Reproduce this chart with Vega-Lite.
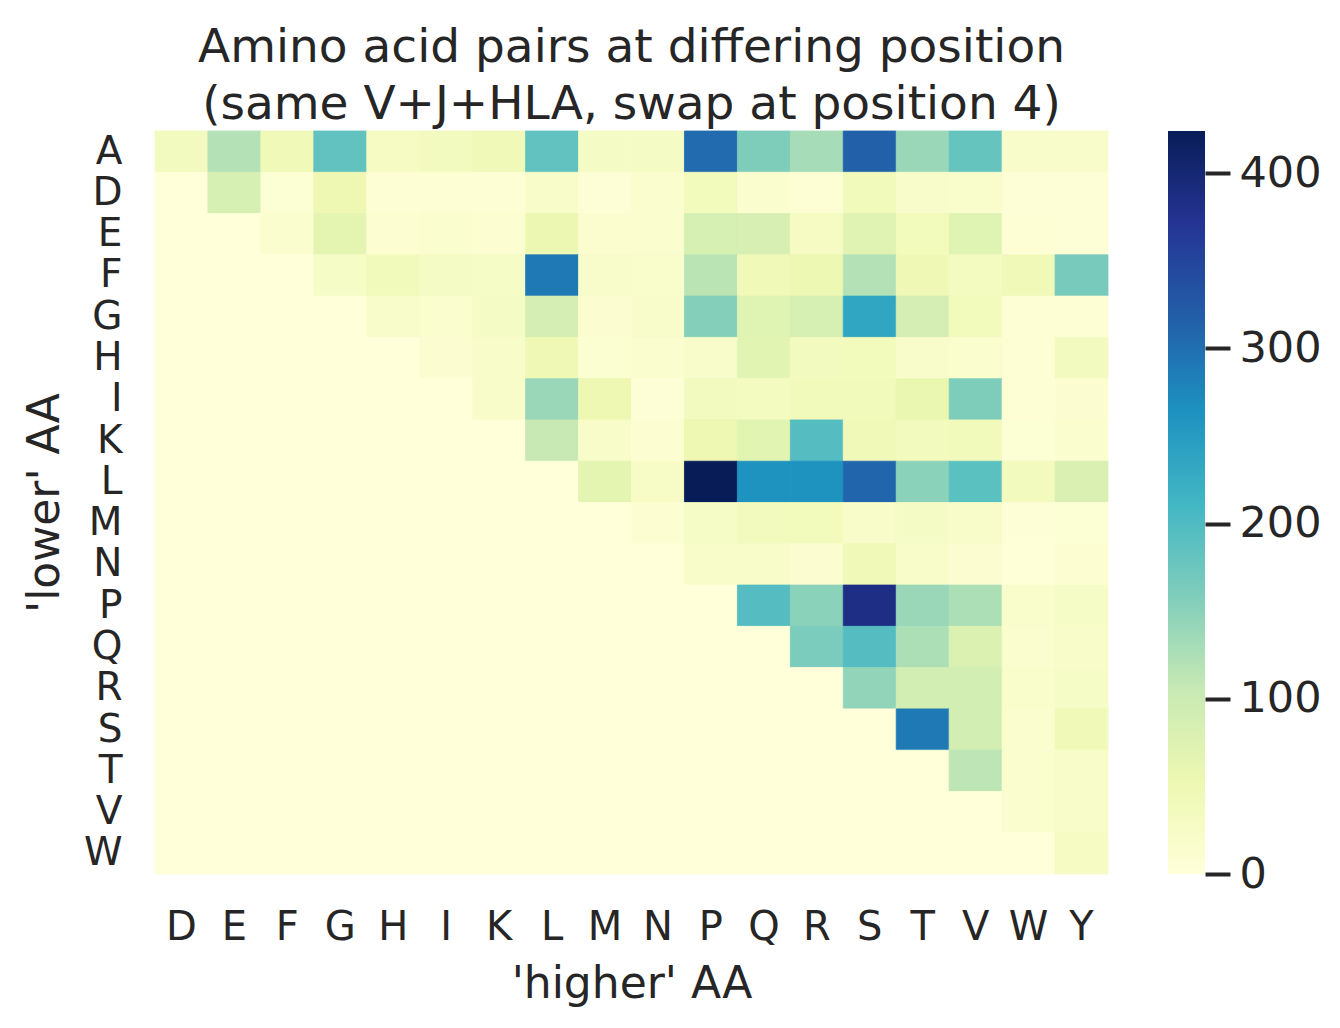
{
  "$schema": "https://vega.github.io/schema/vega-lite/v6.json",
  "padding": {"left": 23, "top": 23, "right": 10, "bottom": 10},
  "background": "white",
  "config": {
    "font": "DejaVu Sans",
    "view": {"stroke": null},
    "axis": {
      "labelColor": "#262626",
      "titleColor": "#262626",
      "titleFontWeight": "normal",
      "grid": false,
      "domain": false
    },
    "title": {"color": "#262626", "fontWeight": "normal"}
  },
  "datasets": {
    "pairs": [
      {"lo":"A","hi":"D","n":35},{"lo":"A","hi":"E","n":120},{"lo":"A","hi":"F","n":45},{"lo":"A","hi":"G","n":185},{"lo":"A","hi":"H","n":30},{"lo":"A","hi":"I","n":35},{"lo":"A","hi":"K","n":45},{"lo":"A","hi":"L","n":185},{"lo":"A","hi":"M","n":28},{"lo":"A","hi":"N","n":28},{"lo":"A","hi":"P","n":305},{"lo":"A","hi":"Q","n":160},{"lo":"A","hi":"R","n":130},{"lo":"A","hi":"S","n":315},{"lo":"A","hi":"T","n":140},{"lo":"A","hi":"V","n":180},{"lo":"A","hi":"W","n":20},{"lo":"A","hi":"Y","n":20},
      {"lo":"D","hi":"D","n":0},{"lo":"D","hi":"E","n":85},{"lo":"D","hi":"F","n":8},{"lo":"D","hi":"G","n":50},{"lo":"D","hi":"H","n":7},{"lo":"D","hi":"I","n":6},{"lo":"D","hi":"K","n":6},{"lo":"D","hi":"L","n":22},{"lo":"D","hi":"M","n":4},{"lo":"D","hi":"N","n":15},{"lo":"D","hi":"P","n":38},{"lo":"D","hi":"Q","n":14},{"lo":"D","hi":"R","n":6},{"lo":"D","hi":"S","n":40},{"lo":"D","hi":"T","n":20},{"lo":"D","hi":"V","n":18},{"lo":"D","hi":"W","n":5},{"lo":"D","hi":"Y","n":5},
      {"lo":"E","hi":"D","n":0},{"lo":"E","hi":"E","n":0},{"lo":"E","hi":"F","n":15},{"lo":"E","hi":"G","n":65},{"lo":"E","hi":"H","n":10},{"lo":"E","hi":"I","n":14},{"lo":"E","hi":"K","n":10},{"lo":"E","hi":"L","n":55},{"lo":"E","hi":"M","n":13},{"lo":"E","hi":"N","n":15},{"lo":"E","hi":"P","n":85},{"lo":"E","hi":"Q","n":84},{"lo":"E","hi":"R","n":30},{"lo":"E","hi":"S","n":70},{"lo":"E","hi":"T","n":38},{"lo":"E","hi":"V","n":72},{"lo":"E","hi":"W","n":6},{"lo":"E","hi":"Y","n":5},
      {"lo":"F","hi":"D","n":0},{"lo":"F","hi":"E","n":0},{"lo":"F","hi":"F","n":0},{"lo":"F","hi":"G","n":26},{"lo":"F","hi":"H","n":40},{"lo":"F","hi":"I","n":28},{"lo":"F","hi":"K","n":26},{"lo":"F","hi":"L","n":290},{"lo":"F","hi":"M","n":20},{"lo":"F","hi":"N","n":17},{"lo":"F","hi":"P","n":115},{"lo":"F","hi":"Q","n":45},{"lo":"F","hi":"R","n":52},{"lo":"F","hi":"S","n":120},{"lo":"F","hi":"T","n":48},{"lo":"F","hi":"V","n":32},{"lo":"F","hi":"W","n":45},{"lo":"F","hi":"Y","n":165},
      {"lo":"G","hi":"D","n":0},{"lo":"G","hi":"E","n":0},{"lo":"G","hi":"F","n":0},{"lo":"G","hi":"G","n":0},{"lo":"G","hi":"H","n":20},{"lo":"G","hi":"I","n":15},{"lo":"G","hi":"K","n":28},{"lo":"G","hi":"L","n":88},{"lo":"G","hi":"M","n":12},{"lo":"G","hi":"N","n":20},{"lo":"G","hi":"P","n":155},{"lo":"G","hi":"Q","n":72},{"lo":"G","hi":"R","n":85},{"lo":"G","hi":"S","n":235},{"lo":"G","hi":"T","n":88},{"lo":"G","hi":"V","n":38},{"lo":"G","hi":"W","n":6},{"lo":"G","hi":"Y","n":6},
      {"lo":"H","hi":"D","n":0},{"lo":"H","hi":"E","n":0},{"lo":"H","hi":"F","n":0},{"lo":"H","hi":"G","n":0},{"lo":"H","hi":"H","n":0},{"lo":"H","hi":"I","n":12},{"lo":"H","hi":"K","n":22},{"lo":"H","hi":"L","n":48},{"lo":"H","hi":"M","n":11},{"lo":"H","hi":"N","n":16},{"lo":"H","hi":"P","n":20},{"lo":"H","hi":"Q","n":68},{"lo":"H","hi":"R","n":35},{"lo":"H","hi":"S","n":38},{"lo":"H","hi":"T","n":20},{"lo":"H","hi":"V","n":16},{"lo":"H","hi":"W","n":6},{"lo":"H","hi":"Y","n":35},
      {"lo":"I","hi":"D","n":0},{"lo":"I","hi":"E","n":0},{"lo":"I","hi":"F","n":0},{"lo":"I","hi":"G","n":0},{"lo":"I","hi":"H","n":0},{"lo":"I","hi":"I","n":0},{"lo":"I","hi":"K","n":22},{"lo":"I","hi":"L","n":140},{"lo":"I","hi":"M","n":50},{"lo":"I","hi":"N","n":5},{"lo":"I","hi":"P","n":35},{"lo":"I","hi":"Q","n":32},{"lo":"I","hi":"R","n":40},{"lo":"I","hi":"S","n":40},{"lo":"I","hi":"T","n":58},{"lo":"I","hi":"V","n":160},{"lo":"I","hi":"W","n":6},{"lo":"I","hi":"Y","n":12},
      {"lo":"K","hi":"D","n":0},{"lo":"K","hi":"E","n":0},{"lo":"K","hi":"F","n":0},{"lo":"K","hi":"G","n":0},{"lo":"K","hi":"H","n":0},{"lo":"K","hi":"I","n":0},{"lo":"K","hi":"K","n":0},{"lo":"K","hi":"L","n":105},{"lo":"K","hi":"M","n":22},{"lo":"K","hi":"N","n":9},{"lo":"K","hi":"P","n":50},{"lo":"K","hi":"Q","n":68},{"lo":"K","hi":"R","n":195},{"lo":"K","hi":"S","n":42},{"lo":"K","hi":"T","n":37},{"lo":"K","hi":"V","n":40},{"lo":"K","hi":"W","n":8},{"lo":"K","hi":"Y","n":14},
      {"lo":"L","hi":"D","n":0},{"lo":"L","hi":"E","n":0},{"lo":"L","hi":"F","n":0},{"lo":"L","hi":"G","n":0},{"lo":"L","hi":"H","n":0},{"lo":"L","hi":"I","n":0},{"lo":"L","hi":"K","n":0},{"lo":"L","hi":"L","n":0},{"lo":"L","hi":"M","n":65},{"lo":"L","hi":"N","n":25},{"lo":"L","hi":"P","n":424},{"lo":"L","hi":"Q","n":262},{"lo":"L","hi":"R","n":262},{"lo":"L","hi":"S","n":310},{"lo":"L","hi":"T","n":150},{"lo":"L","hi":"V","n":190},{"lo":"L","hi":"W","n":36},{"lo":"L","hi":"Y","n":80},
      {"lo":"M","hi":"D","n":0},{"lo":"M","hi":"E","n":0},{"lo":"M","hi":"F","n":0},{"lo":"M","hi":"G","n":0},{"lo":"M","hi":"H","n":0},{"lo":"M","hi":"I","n":0},{"lo":"M","hi":"K","n":0},{"lo":"M","hi":"L","n":0},{"lo":"M","hi":"M","n":0},{"lo":"M","hi":"N","n":9},{"lo":"M","hi":"P","n":26},{"lo":"M","hi":"Q","n":36},{"lo":"M","hi":"R","n":38},{"lo":"M","hi":"S","n":22},{"lo":"M","hi":"T","n":28},{"lo":"M","hi":"V","n":22},{"lo":"M","hi":"W","n":5},{"lo":"M","hi":"Y","n":8},
      {"lo":"N","hi":"D","n":0},{"lo":"N","hi":"E","n":0},{"lo":"N","hi":"F","n":0},{"lo":"N","hi":"G","n":0},{"lo":"N","hi":"H","n":0},{"lo":"N","hi":"I","n":0},{"lo":"N","hi":"K","n":0},{"lo":"N","hi":"L","n":0},{"lo":"N","hi":"M","n":0},{"lo":"N","hi":"N","n":0},{"lo":"N","hi":"P","n":23},{"lo":"N","hi":"Q","n":21},{"lo":"N","hi":"R","n":12},{"lo":"N","hi":"S","n":44},{"lo":"N","hi":"T","n":21},{"lo":"N","hi":"V","n":12},{"lo":"N","hi":"W","n":3},{"lo":"N","hi":"Y","n":10},
      {"lo":"P","hi":"D","n":0},{"lo":"P","hi":"E","n":0},{"lo":"P","hi":"F","n":0},{"lo":"P","hi":"G","n":0},{"lo":"P","hi":"H","n":0},{"lo":"P","hi":"I","n":0},{"lo":"P","hi":"K","n":0},{"lo":"P","hi":"L","n":0},{"lo":"P","hi":"M","n":0},{"lo":"P","hi":"N","n":0},{"lo":"P","hi":"P","n":0},{"lo":"P","hi":"Q","n":195},{"lo":"P","hi":"R","n":150},{"lo":"P","hi":"S","n":385},{"lo":"P","hi":"T","n":140},{"lo":"P","hi":"V","n":125},{"lo":"P","hi":"W","n":18},{"lo":"P","hi":"Y","n":26},
      {"lo":"Q","hi":"D","n":0},{"lo":"Q","hi":"E","n":0},{"lo":"Q","hi":"F","n":0},{"lo":"Q","hi":"G","n":0},{"lo":"Q","hi":"H","n":0},{"lo":"Q","hi":"I","n":0},{"lo":"Q","hi":"K","n":0},{"lo":"Q","hi":"L","n":0},{"lo":"Q","hi":"M","n":0},{"lo":"Q","hi":"N","n":0},{"lo":"Q","hi":"P","n":0},{"lo":"Q","hi":"Q","n":0},{"lo":"Q","hi":"R","n":162},{"lo":"Q","hi":"S","n":195},{"lo":"Q","hi":"T","n":125},{"lo":"Q","hi":"V","n":78},{"lo":"Q","hi":"W","n":14},{"lo":"Q","hi":"Y","n":22},
      {"lo":"R","hi":"D","n":0},{"lo":"R","hi":"E","n":0},{"lo":"R","hi":"F","n":0},{"lo":"R","hi":"G","n":0},{"lo":"R","hi":"H","n":0},{"lo":"R","hi":"I","n":0},{"lo":"R","hi":"K","n":0},{"lo":"R","hi":"L","n":0},{"lo":"R","hi":"M","n":0},{"lo":"R","hi":"N","n":0},{"lo":"R","hi":"P","n":0},{"lo":"R","hi":"Q","n":0},{"lo":"R","hi":"R","n":0},{"lo":"R","hi":"S","n":145},{"lo":"R","hi":"T","n":90},{"lo":"R","hi":"V","n":90},{"lo":"R","hi":"W","n":19},{"lo":"R","hi":"Y","n":26},
      {"lo":"S","hi":"D","n":0},{"lo":"S","hi":"E","n":0},{"lo":"S","hi":"F","n":0},{"lo":"S","hi":"G","n":0},{"lo":"S","hi":"H","n":0},{"lo":"S","hi":"I","n":0},{"lo":"S","hi":"K","n":0},{"lo":"S","hi":"L","n":0},{"lo":"S","hi":"M","n":0},{"lo":"S","hi":"N","n":0},{"lo":"S","hi":"P","n":0},{"lo":"S","hi":"Q","n":0},{"lo":"S","hi":"R","n":0},{"lo":"S","hi":"S","n":0},{"lo":"S","hi":"T","n":290},{"lo":"S","hi":"V","n":90},{"lo":"S","hi":"W","n":15},{"lo":"S","hi":"Y","n":45},
      {"lo":"T","hi":"D","n":0},{"lo":"T","hi":"E","n":0},{"lo":"T","hi":"F","n":0},{"lo":"T","hi":"G","n":0},{"lo":"T","hi":"H","n":0},{"lo":"T","hi":"I","n":0},{"lo":"T","hi":"K","n":0},{"lo":"T","hi":"L","n":0},{"lo":"T","hi":"M","n":0},{"lo":"T","hi":"N","n":0},{"lo":"T","hi":"P","n":0},{"lo":"T","hi":"Q","n":0},{"lo":"T","hi":"R","n":0},{"lo":"T","hi":"S","n":0},{"lo":"T","hi":"T","n":0},{"lo":"T","hi":"V","n":113},{"lo":"T","hi":"W","n":15},{"lo":"T","hi":"Y","n":21},
      {"lo":"V","hi":"D","n":0},{"lo":"V","hi":"E","n":0},{"lo":"V","hi":"F","n":0},{"lo":"V","hi":"G","n":0},{"lo":"V","hi":"H","n":0},{"lo":"V","hi":"I","n":0},{"lo":"V","hi":"K","n":0},{"lo":"V","hi":"L","n":0},{"lo":"V","hi":"M","n":0},{"lo":"V","hi":"N","n":0},{"lo":"V","hi":"P","n":0},{"lo":"V","hi":"Q","n":0},{"lo":"V","hi":"R","n":0},{"lo":"V","hi":"S","n":0},{"lo":"V","hi":"T","n":0},{"lo":"V","hi":"V","n":0},{"lo":"V","hi":"W","n":16},{"lo":"V","hi":"Y","n":21},
      {"lo":"W","hi":"D","n":0},{"lo":"W","hi":"E","n":0},{"lo":"W","hi":"F","n":0},{"lo":"W","hi":"G","n":0},{"lo":"W","hi":"H","n":0},{"lo":"W","hi":"I","n":0},{"lo":"W","hi":"K","n":0},{"lo":"W","hi":"L","n":0},{"lo":"W","hi":"M","n":0},{"lo":"W","hi":"N","n":0},{"lo":"W","hi":"P","n":0},{"lo":"W","hi":"Q","n":0},{"lo":"W","hi":"R","n":0},{"lo":"W","hi":"S","n":0},{"lo":"W","hi":"T","n":0},{"lo":"W","hi":"V","n":0},{"lo":"W","hi":"W","n":0},{"lo":"W","hi":"Y","n":30}
    ],
    "colorbar": [{"from": 0, "to": 424}]
  },
  "spacing": 59,
  "hconcat": [
    {
      "width": 953,
      "height": 743,
      "title": {
        "text": ["Amino acid pairs at differing position", "(same V+J+HLA, swap at position 4)"],
        "fontSize": 47,
        "lineHeight": 57,
        "anchor": "middle",
        "offset": 2
      },
      "data": {"name": "pairs"},
      "mark": {"type": "rect", "strokeWidth": 0.8},
      "encoding": {
        "x": {
          "field": "hi",
          "type": "nominal",
          "sort": ["D","E","F","G","H","I","K","L","M","N","P","Q","R","S","T","V","W","Y"],
          "scale": {"paddingInner": 0, "paddingOuter": 0},
          "axis": {"title": "'higher' AA", "labelAngle": 0, "labelFontSize": 40, "titleFontSize": 44, "ticks": false, "tickSize": 0, "labelPadding": 33, "titlePadding": 15}
        },
        "y": {
          "field": "lo",
          "type": "nominal",
          "sort": ["A","D","E","F","G","H","I","K","L","M","N","P","Q","R","S","T","V","W"],
          "scale": {"paddingInner": 0, "paddingOuter": 0},
          "axis": {"title": "'lower' AA", "labelFontSize": 39, "titleFontSize": 44, "ticks": false, "tickSize": 0, "labelPadding": 33, "titlePadding": 16}
        },
        "color": {
          "field": "n",
          "type": "quantitative",
          "scale": {
            "domain": [0, 53, 106, 159, 212, 265, 318, 371, 424],
            "range": ["#ffffd9", "#edf8b1", "#c7e9b4", "#7fcdbb", "#41b6c4", "#1d91c0", "#225ea8", "#253494", "#081d58"],
            "interpolate": "rgb"
          },
          "legend": null
        },
        "stroke": {
          "field": "n",
          "type": "quantitative",
          "scale": {
            "domain": [0, 53, 106, 159, 212, 265, 318, 371, 424],
            "range": ["#ffffd9", "#edf8b1", "#c7e9b4", "#7fcdbb", "#41b6c4", "#1d91c0", "#225ea8", "#253494", "#081d58"],
            "interpolate": "rgb"
          },
          "legend": null
        },
        "tooltip": [
          {"field": "lo", "type": "nominal", "title": "lower AA"},
          {"field": "hi", "type": "nominal", "title": "higher AA"},
          {"field": "n", "type": "quantitative", "title": "count"}
        ]
      }
    },
    {
      "width": 37,
      "height": 743,
      "data": {"name": "colorbar"},
      "mark": {
        "type": "rect",
        "color": {
          "gradient": "linear",
          "x1": 0, "y1": 1, "x2": 0, "y2": 0,
          "stops": [
            {"offset": 0, "color": "#ffffd9"},
            {"offset": 0.125, "color": "#edf8b1"},
            {"offset": 0.25, "color": "#c7e9b4"},
            {"offset": 0.375, "color": "#7fcdbb"},
            {"offset": 0.5, "color": "#41b6c4"},
            {"offset": 0.625, "color": "#1d91c0"},
            {"offset": 0.75, "color": "#225ea8"},
            {"offset": 0.875, "color": "#253494"},
            {"offset": 1, "color": "#081d58"}
          ]
        }
      },
      "encoding": {
        "y": {
          "field": "from",
          "type": "quantitative",
          "scale": {"domain": [0, 424], "nice": false},
          "axis": {
            "orient": "right",
            "title": null,
            "values": [0, 100, 200, 300, 400],
            "labelFontSize": 43,
            "ticks": true,
            "tickSize": 25,
            "tickWidth": 4,
            "tickColor": "#262626",
            "labelPadding": 9
          }
        },
        "y2": {"field": "to"}
      }
    }
  ]
}
